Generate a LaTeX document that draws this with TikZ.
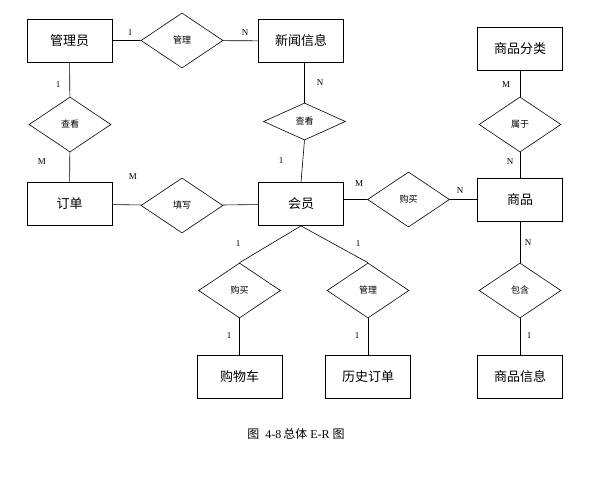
\documentclass[tikz,border=0pt]{standalone}
\usepackage{fontspec}
\setmainfont{Liberation Serif}
\newfontfamily\cjk{Noto Sans CJK SC}
\usetikzlibrary{shapes.geometric}

\tikzset{
  entity/.style={draw, line width=0.8pt, minimum width=85pt, minimum height=43pt,
    inner sep=0pt, font=\cjk\fontsize{13}{13}\selectfont},
  relation/.style={draw, diamond, line width=0.6pt, minimum width=82pt, minimum height=55pt,
    inner sep=0pt, font=\cjk\fontsize{9}{9}\selectfont},
  card/.style={inner sep=0pt, font=\fontsize{9}{9}\selectfont},
}

\begin{document}
\begin{tikzpicture}[x=1pt, y=-1pt, line width=0.6pt]
  \fill[white] (0,0) rectangle (603,483);
  \useasboundingbox (0,0) rectangle (603,483);

  % entities
  \node[entity] (gly)  at (69.5,40.5) {管理员};
  \node[entity] (news) at (301,41)    {新闻信息};
  \node[entity] (spfl) at (520,49)    {商品分类};
  \node[entity] (dd)   at (69.5,204)  {订单};
  \node[entity] (hy)   at (301,204)   {会员};
  \node[entity] (sp)   at (520,199.5) {商品};
  \node[entity] (gwc)  at (239.5,377) {购物车};
  \node[entity] (lsdd) at (368,377)   {历史订单};
  \node[entity] (spxx) at (520,377)   {商品信息};

  % relations
  \node[relation] (gl1) at (182,40.5)    {管理};
  \node[relation] (ck1) at (70,124.5)    {查看};
  \node[relation, minimum height=37pt] (ck2) at (304.5,121.5) {查看};
  \node[relation] (sy)  at (520,124.5)   {属于};
  \node[relation] (tx)  at (182,205.5)   {填写};
  \node[relation] (gm1) at (408.5,199.5) {购买};
  \node[relation] (gm2) at (239.5,290.5) {购买};
  \node[relation] (gl2) at (368,290.5)   {管理};
  \node[relation] (bh)  at (520,290.5)   {包含};

  % connectors
  \draw (gly) -- (gl1) -- (news);
  \draw (gly) -- (ck1) -- (dd);
  \draw (news.south -| ck2) -- (ck2.north);
  \draw (ck2.south) -- (hy.north);
  \draw (dd) -- (tx) -- (hy);
  \draw (hy.east |- gm1) -- (gm1) -- (sp);
  \draw (spfl) -- (sy) -- (sp);
  \draw (sp) -- (bh) -- (spxx);
  \draw (hy.south) -- (gm2.north);
  \draw (hy.south) -- (gl2.north);
  \draw (gm2) -- (gwc);
  \draw (gl2) -- (lsdd);

  % cardinalities
  \node[card] (c1)  at (130,33)  {1};
  \node[card] (c2)  at (245,33)  {N};
  \node[card] (c3)  at (58,85)   {1};
  \node[card] (c4)  at (42,162)  {M};
  \node[card] (c5)  at (320,83)  {N};
  \node[card] (c6)  at (281,161) {1};
  \node[card] (c7)  at (133,177) {M};
  \node[card] (c8)  at (359,184) {M};
  \node[card] (c9)  at (460,191) {N};
  \node[card] (c10) at (506,85)  {M};
  \node[card] (c11) at (510,162) {N};
  \node[card] (c12) at (528,243) {N};
  \node[card] (c13) at (529,336) {1};
  \node[card] (c14) at (238,244) {1};
  \node[card] (c15) at (358,244) {1};
  \node[card] (c16) at (229,336) {1};
  \node[card] (c17) at (357,336) {1};

  % caption
  \node[inner sep=0pt, font=\fontsize{12}{12}\selectfont] (cap) at (296,434)
    {{\cjk 图}\ \ 4-8\,{\cjk 总体}\ E-R\ {\cjk 图}};
\end{tikzpicture}
\end{document}
